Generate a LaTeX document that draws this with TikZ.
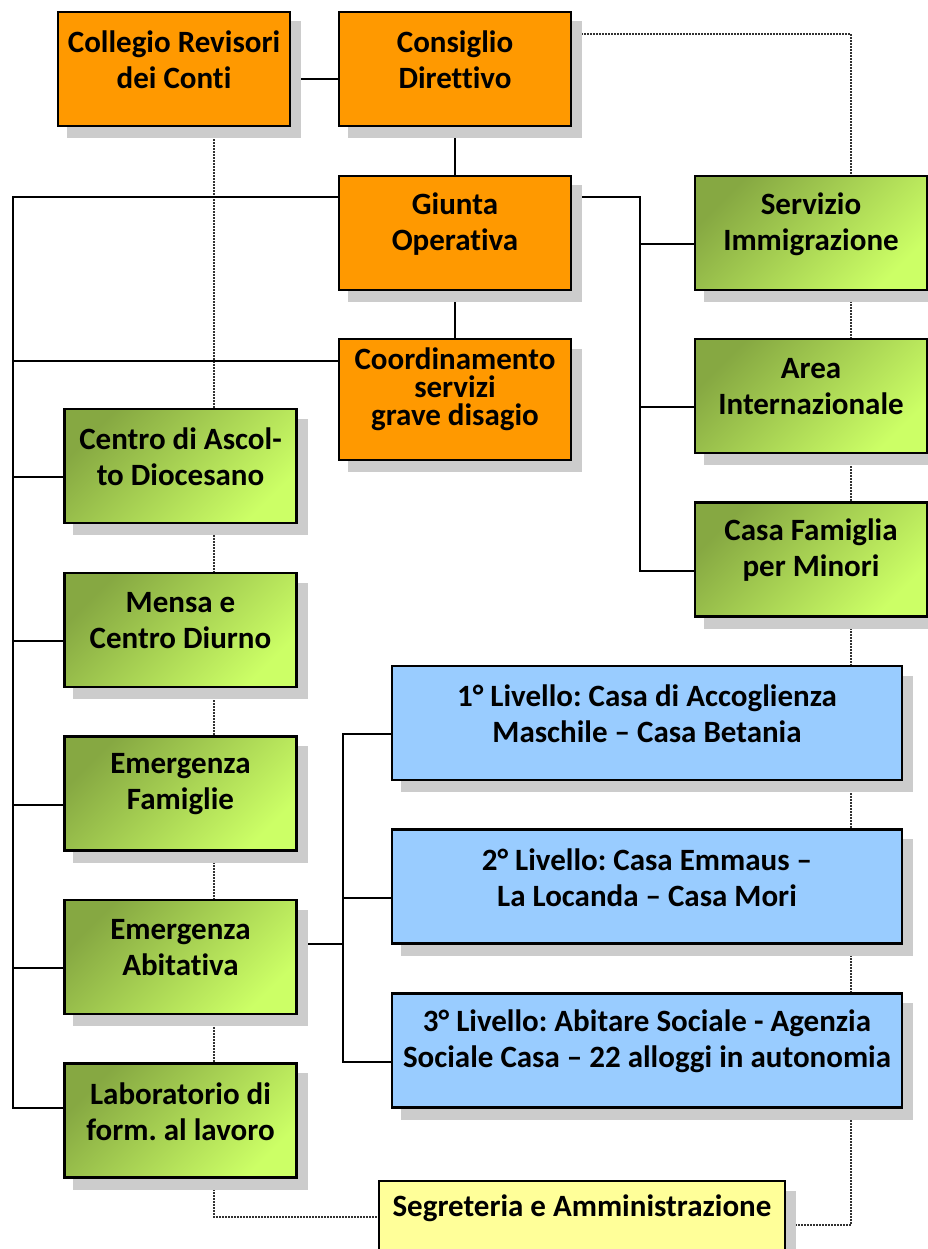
\documentclass[tikz,border=0pt]{standalone}
\usepackage{fontspec}
\setmainfont{Carlito}[Ligatures=NoCommon]
\usetikzlibrary{backgrounds}
\frenchspacing

\definecolor{orgfill}{RGB}{255,153,0}
\definecolor{grndark}{RGB}{134,168,66}
\definecolor{grnlight}{RGB}{204,255,102}
\definecolor{blufill}{RGB}{153,204,255}
\definecolor{yelfill}{RGB}{255,255,153}
\definecolor{shadowgray}{RGB}{204,204,204}
\definecolor{dotgray}{RGB}{50,50,50}

\begin{document}
\begin{tikzpicture}[
            x=1pt, y=-1pt,
            every node/.style={inner sep=0pt},
            box/.style={draw=black, line width=2.5pt, minimum width=232pt, minimum height=114pt},
            orgbox/.style={box, fill=orgfill},
            grnbox/.style={box, top color=grndark, bottom color=grnlight, shading angle=45},
            blubox/.style={box, fill=blufill, minimum width=510pt},
            yelbox/.style={box, fill=yelfill, minimum width=406pt, minimum height=72pt},
            txt/.style={align=center, font=\fontsize{31}{36}\selectfont\bfseries, yshift=9pt},
            link/.style={draw, line width=2pt},
            dots/.style={draw=dotgray, line width=1.5pt, dash pattern=on 1.5pt off 1.5pt}
        ]
        \useasboundingbox (0,0) rectangle (927,1249);
        % Top of the chart
        \node[orgbox, label={[txt]center:Collegio Revisori\\dei Conti}] (coll) at (174,69) {};
        \node[orgbox, label={[txt]center:Consiglio\\Direttivo}] (cons) at (455,69) {};
        \node[orgbox, label={[txt]center:Giunta\\Operativa}] (giunta) at (455,233) {};
        \node[orgbox, minimum height=121pt,
              label={[txt, font=\fontsize{31}{28}\selectfont\bfseries, yshift=1.5pt]center:Coordinamento\\servizi\\grave disagio}] (coord) at (455,399.5) {};
        % Right column
        \node[grnbox, label={[txt]center:Servizio\\Immigrazione}] (serv) at (811,233) {};
        \node[grnbox, label={[txt]center:Area\\Internazionale}] (area) at (811,396) {};
        \node[grnbox, label={[txt]center:Casa Famiglia\\per Minori}] (casa) at (811,559.5) {};
        % Left column
        \node[grnbox, label={[txt]center:Centro di Ascol-\\to Diocesano}] (centro) at (180.5,466) {};
        \node[grnbox, label={[txt]center:Mensa e\\Centro Diurno}] (mensa) at (180.5,630) {};
        \node[grnbox, label={[txt]center:Emergenza\\Famiglie}] (emfam) at (180.5,793.5) {};
        \node[grnbox, label={[txt]center:Emergenza\\Abitativa}] (emab) at (180.5,957) {};
        \node[grnbox, label={[txt]center:Laboratorio di\\form. al lavoro}] (lab) at (180.5,1120.5) {};
        % Housing levels
        \node[blubox, label={[txt]center:1° Livello: Casa di Accoglienza\\Maschile – Casa Betania}] (liv1) at (647,723) {};
        \node[blubox, label={[txt]center:2° Livello: Casa Emmaus –\\La Locanda – Casa Mori}] (liv2) at (647,886.5) {};
        \node[blubox, label={[txt]center:3° Livello: Abitare Sociale - Agenzia\\Sociale Casa – 22 alloggi in autonomia}] (liv3) at (647,1050.5) {};
        \node[yelbox, label={[txt]center:Segreteria e Amministrazione}] (segr) at (582,1217) {};

        \begin{scope}[on background layer]
        % Dotted staff lines
        \draw[dots] ([yshift=35pt]cons.east) -| ([xshift=40pt]serv.center) |- ([yshift=-8pt]segr.east);
        \draw[dots] ([xshift=40pt]coll.south) |- (segr.west);
        % Solid lines
        \coordinate (ltop) at (13,197);
        \coordinate (lbot) at (13,1108);
        \coordinate (rtop) at (640,197);
        \coordinate (rbot) at (640,571);
        \draw[link] ([yshift=-10pt]coll.east) -- ([yshift=-10pt]cons.west);
        \draw[link] (cons.south) -- (giunta.north);
        \draw[link] (giunta.south) -- (coord.north);
        \draw[link] ([yshift=36pt]giunta.west) -- (ltop) -- (lbot) -- ([yshift=12.5pt]lab.west);
        \draw[link] ([yshift=38.5pt]coord.west) -| (ltop);
        \foreach \n in {centro, mensa, emfam, emab}
            \draw[link] ([yshift=-11pt]\n.west) -| (lbot);
        \draw[link] ([yshift=36pt]giunta.east) -- (rtop) -- (rbot) -- ([yshift=-11.5pt]casa.west);
        \foreach \n in {serv, area}
            \draw[link] ([yshift=-11pt]\n.west) -| (rtop);
        \foreach \n in {liv1, liv2, liv3}
            \draw[link] ([yshift=-11pt]\n.west) -- ++(-48,0) |- ([yshift=13pt]emab.east);
        % Add shadows behind boxes
        \foreach \n in {coll, cons, giunta, coord, serv, area, casa, centro, mensa, emfam, emab, lab, liv1, liv2, liv3, segr}
            \fill[shadowgray] ([xshift=9.75pt, yshift=-10.75pt]\n.south west) rectangle ([xshift=9.75pt, yshift=-10.75pt]\n.north east);
        \end{scope}
\end{tikzpicture}
\end{document}
